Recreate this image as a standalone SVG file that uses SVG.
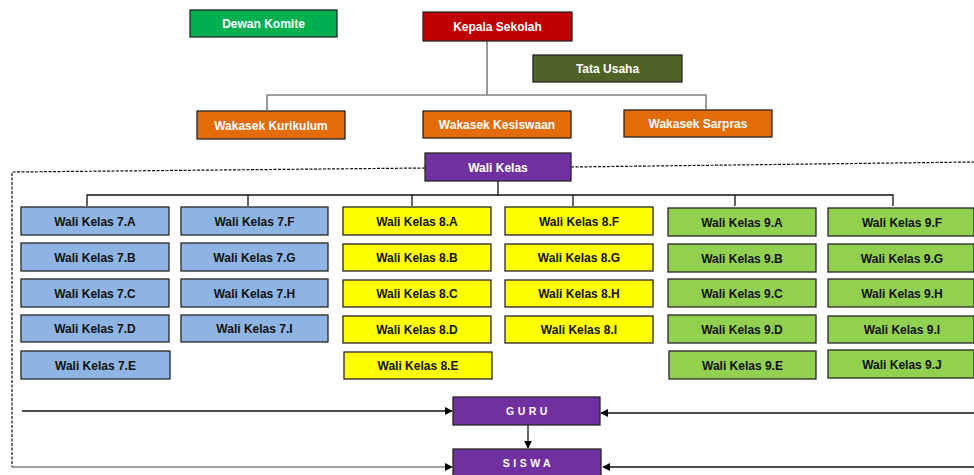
<svg xmlns="http://www.w3.org/2000/svg" width="974" height="475" viewBox="0 0 974 475">
<defs>
<style>
.b{stroke:#262626;stroke-width:1.3}
.t{font-family:"Liberation Sans",Arial,sans-serif;font-weight:bold;font-size:12px;text-anchor:middle}
.w{fill:#ffffff}
.k{fill:#111111}
.sp{font-family:"Liberation Sans",Arial,sans-serif;font-weight:bold;font-size:10.5px;text-anchor:middle;fill:#ffffff;letter-spacing:3.5px}
.c7{fill:#8DB4E2}.c8{fill:#FFFF00}.c9{fill:#92D050}
.g{stroke:#808080;stroke-width:1.6;fill:none}
.s{stroke:#111;stroke-width:1.3;fill:none}
.d{stroke:#111;stroke-width:1.2;fill:none;stroke-dasharray:3 1.5}
</style>
<marker id="ah" viewBox="0 0 10 10" refX="9" refY="5" markerWidth="8" markerHeight="8" markerUnits="userSpaceOnUse" orient="auto"><path d="M0,0 L10,5 L0,10 Z" fill="#000"/></marker>
</defs>
<g id="connectors">
<path class="g" d="M487,41 V95 M267,110 V95 H706 V109"/>
<path class="d" d="M425,168 L12,172 V467 M571,167 L974,162"/>
<path class="s" d="M498,181 V195 M87,206 V195 H893 V206 M248,195 V206 M412,195 V206 M573,195 V206 M735,195 V206"/>
<path class="s" d="M22,411 H452" marker-end="url(#ah)"/>
<path class="s" d="M974,413 H601" marker-end="url(#ah)"/>
<path class="s" d="M528,425 V448" marker-end="url(#ah)"/>
<path class="g" d="M12,467 H452" marker-end="url(#ah)" stroke="#666" stroke-width="1.3"/>
<path class="s" d="M974,467 H603" marker-end="url(#ah)" stroke="#555"/>
</g>
<g id="dewan"><rect class="b" x="190" y="10" width="147" height="27" fill="#00B050"/><text class="t w" x="263.5" y="28">Dewan Komite</text></g>
<g id="kepala"><rect class="b" x="423" y="12" width="149" height="29" fill="#C00000"/><text class="t w" x="497.5" y="31">Kepala Sekolah</text></g>
<g id="tatausaha"><rect class="b" x="533" y="55" width="149" height="27" fill="#4F6228"/><text class="t w" x="607.5" y="73">Tata Usaha</text></g>
<g id="kurikulum"><rect class="b" x="197" y="111" width="148" height="28" fill="#E36C09"/><text class="t w" x="271" y="129.5">Wakasek Kurikulum</text></g>
<g id="kesiswaan"><rect class="b" x="423" y="111" width="148" height="27" fill="#E36C09"/><text class="t w" x="497" y="129">Wakasek Kesiswaan</text></g>
<g id="sarpras"><rect class="b" x="624" y="110" width="148" height="27" fill="#E36C09"/><text class="t w" x="698" y="128">Wakasek Sarpras</text></g>
<g id="walikelas"><rect class="b" x="425" y="153" width="146" height="28" fill="#7030A0"/><text class="t w" x="498" y="171.5">Wali Kelas</text></g>
<g id="k7a"><rect class="b c7" x="21" y="207" width="148" height="28"/><text class="t k" x="95" y="225.5">Wali Kelas 7.A</text></g>
<g id="k7b"><rect class="b c7" x="21" y="243" width="148" height="28"/><text class="t k" x="95" y="261.5">Wali Kelas 7.B</text></g>
<g id="k7c"><rect class="b c7" x="21" y="279" width="148" height="28"/><text class="t k" x="95" y="297.5">Wali Kelas 7.C</text></g>
<g id="k7d"><rect class="b c7" x="21" y="315" width="148" height="27"/><text class="t k" x="95" y="333">Wali Kelas 7.D</text></g>
<g id="k7e"><rect class="b c7" x="21" y="351" width="149" height="28"/><text class="t k" x="95.5" y="369.5">Wali Kelas 7.E</text></g>
<g id="k7f"><rect class="b c7" x="181" y="207" width="147" height="28"/><text class="t k" x="254.5" y="225.5">Wali Kelas 7.F</text></g>
<g id="k7g"><rect class="b c7" x="181" y="243" width="147" height="28"/><text class="t k" x="254.5" y="261.5">Wali Kelas 7.G</text></g>
<g id="k7h"><rect class="b c7" x="181" y="279" width="147" height="28"/><text class="t k" x="254.5" y="297.5">Wali Kelas 7.H</text></g>
<g id="k7i"><rect class="b c7" x="181" y="315" width="147" height="27"/><text class="t k" x="254.5" y="333">Wali Kelas 7.I</text></g>
<g id="k8a"><rect class="b c8" x="343" y="207" width="148" height="28"/><text class="t k" x="417" y="225.5">Wali Kelas 8.A</text></g>
<g id="k8b"><rect class="b c8" x="343" y="244" width="148" height="27"/><text class="t k" x="417" y="262">Wali Kelas 8.B</text></g>
<g id="k8c"><rect class="b c8" x="343" y="280" width="148" height="27"/><text class="t k" x="417" y="298">Wali Kelas 8.C</text></g>
<g id="k8d"><rect class="b c8" x="343" y="316" width="148" height="27"/><text class="t k" x="417" y="334">Wali Kelas 8.D</text></g>
<g id="k8e"><rect class="b c8" x="344" y="352" width="148" height="27"/><text class="t k" x="418" y="370">Wali Kelas 8.E</text></g>
<g id="k8f"><rect class="b c8" x="505" y="207" width="148" height="28"/><text class="t k" x="579" y="225.5">Wali Kelas 8.F</text></g>
<g id="k8g"><rect class="b c8" x="505" y="244" width="148" height="27"/><text class="t k" x="579" y="262">Wali Kelas 8.G</text></g>
<g id="k8h"><rect class="b c8" x="505" y="280" width="148" height="27"/><text class="t k" x="579" y="298">Wali Kelas 8.H</text></g>
<g id="k8i"><rect class="b c8" x="505" y="316" width="148" height="27"/><text class="t k" x="579" y="334">Wali Kelas 8.I</text></g>
<g id="k9a"><rect class="b c9" x="668" y="208" width="148" height="28"/><text class="t k" x="742" y="226.5">Wali Kelas 9.A</text></g>
<g id="k9b"><rect class="b c9" x="668" y="244" width="148" height="28"/><text class="t k" x="742" y="262.5">Wali Kelas 9.B</text></g>
<g id="k9c"><rect class="b c9" x="668" y="279" width="148" height="28"/><text class="t k" x="742" y="297.5">Wali Kelas 9.C</text></g>
<g id="k9d"><rect class="b c9" x="668" y="315" width="148" height="28"/><text class="t k" x="742" y="333.5">Wali Kelas 9.D</text></g>
<g id="k9e"><rect class="b c9" x="669" y="351" width="147" height="28"/><text class="t k" x="742.5" y="369.5">Wali Kelas 9.E</text></g>
<g id="k9f"><rect class="b c9" x="828" y="208" width="146" height="28"/><text class="t k" x="902" y="226.5">Wali Kelas 9.F</text></g>
<g id="k9g"><rect class="b c9" x="828" y="244" width="146" height="28"/><text class="t k" x="902" y="262.5">Wali Kelas 9.G</text></g>
<g id="k9h"><rect class="b c9" x="828" y="279" width="146" height="28"/><text class="t k" x="902" y="297.5">Wali Kelas 9.H</text></g>
<g id="k9i"><rect class="b c9" x="828" y="316" width="146" height="27"/><text class="t k" x="902" y="334">Wali Kelas 9.I</text></g>
<g id="k9j"><rect class="b c9" x="828" y="350" width="146" height="28"/><text class="t k" x="902" y="368.5">Wali Kelas 9.J</text></g>
<g id="guru"><rect class="b" x="453" y="397" width="147" height="28" fill="#7030A0"/><text class="sp" x="528.5" y="415">GURU</text></g>
<g id="siswa"><rect class="b" x="453" y="449" width="148" height="30" fill="#7030A0"/><text class="sp" x="528.5" y="467">SISWA</text></g>
</svg>
